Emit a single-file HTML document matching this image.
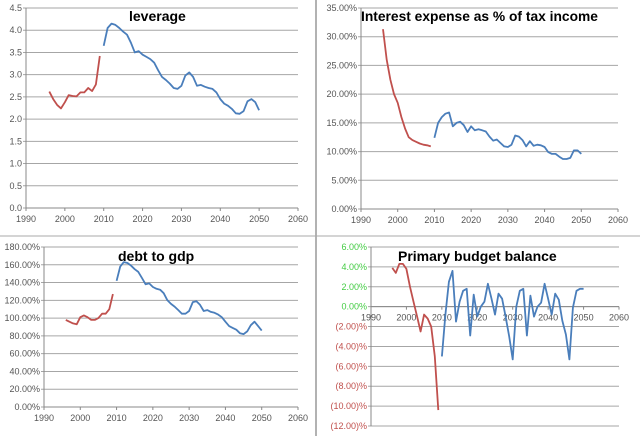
<!DOCTYPE html>
<html><head><meta charset="utf-8">
<style>
body{margin:0;background:#fff;width:640px;height:436px;overflow:hidden;font-family:"Liberation Sans",sans-serif}
svg text{font-family:"Liberation Sans",sans-serif}
</style></head>
<body>
<svg id="s" width="640" height="436" viewBox="0 0 640 436" xmlns="http://www.w3.org/2000/svg">
<line x1="316" y1="0" x2="316" y2="436" stroke="#999" stroke-width="1.5"/>
<line x1="0" y1="236" x2="640" y2="236" stroke="#aaa" stroke-width="1"/>
</svg>
<script>
const years=[];for(let y=1996;y<=2050;y++)years.push(y);
const levRed=[2.62,2.45,2.32,2.24,2.38,2.54,2.52,2.51,2.6,2.6,2.7,2.63,2.78,3.42];
const levBlue=[3.65,4.05,4.15,4.12,4.05,3.97,3.9,3.72,3.5,3.53,3.45,3.4,3.35,3.27,3.1,2.95,2.88,2.8,2.7,2.68,2.75,2.98,3.05,2.95,2.75,2.77,2.73,2.7,2.68,2.6,2.45,2.35,2.3,2.23,2.13,2.12,2.18,2.4,2.45,2.38,2.2];
const intRed=[31.3,26,22.5,20,18.5,16,14,12.5,12,11.7,11.4,11.2,11.1,10.9];
const intBlue=[12.4,15,16,16.6,16.8,14.4,15,15.2,14.6,13.4,14.4,13.7,13.9,13.7,13.5,12.6,11.9,12.1,11.5,10.9,10.8,11.2,12.8,12.6,12,10.9,11.8,11,11.2,11.1,10.8,9.9,9.6,9.6,9.1,8.7,8.7,8.9,10.2,10.2,9.6];
const debtRed=[98,96,94,93,101,103,101,98,98,100,105,105,110,127];
const debtBlue=[142,158,163,162,159,155,152,145,138,139,135,133,132,128,120,116,113,109,105,105,108,118,119,115,108,109,107,106,104,101,96,91,89,87,83,82,85,92,96,91,86];
const pbRed=[3.9,3.4,4.3,4.3,3.8,2.0,0.5,-1.0,-2.5,-0.8,-1.2,-2,-5,-10.4];
const pbBlue=[-5,-0.8,2.5,3.6,-1.5,0.5,1.6,1.8,-2.9,1.2,-1.0,0,0.5,2.3,0.8,-0.8,1.3,0.8,-1.0,-3,-5.3,0,1.6,1.8,-2.9,1.1,-1.0,0,0.4,2.3,0.8,-0.8,1.3,0.7,-1.4,-2.8,-5.3,-0.1,1.6,1.8,1.8];
const xTicks=[1990,2000,2010,2020,2030,2040,2050,2060];
const levTicks=[0,0.5,1,1.5,2,2.5,3,3.5,4,4.5];
const intTicks=[0,5,10,15,20,25,30,35];
const debtTicks=[0,20,40,60,80,100,120,140,160,180];
const pbTicks=[-12,-10,-8,-6,-4,-2,0,2,4,6];

const NS="http://www.w3.org/2000/svg",svg=document.getElementById('s');
function el(t,a,p){const e=document.createElementNS(NS,t);for(const k in a)e.setAttribute(k,a[k]);(p||svg).appendChild(e);return e;}
function chart(c){
  const g=el('g',{});
  
  
  const X=v=>c.x0+(v-1990)/70*(c.x1-c.x0);
  const Y=v=>c.yb+(v-c.ymin)/(c.ymax-c.ymin)*(c.yt-c.yb);
  c.yt_.forEach(t=>{
    const ln=el('line',{x1:X(1990)-3,x2:X(2060),y1:Y(t),y2:Y(t),stroke:'#a6a6a6','stroke-width':1},g);
    
    
    const tx=el('text',{x:X(1990)-4,y:Y(t)+3,'text-anchor':'end','font-size':9,fill:c.ycol?c.ycol(t):'#555'},g);
    tx.textContent=c.fmt(t);
    
    
  });
  const ay=Y(c.axisV);
  const ax=el('line',{x1:X(1990),x2:X(2060),y1:ay,y2:ay,stroke:'#888','stroke-width':1},g);
  
  
  const ya=el('line',{x1:X(1990),x2:X(1990),y1:Y(c.ymax),y2:Y(c.ymin),stroke:'#888','stroke-width':1},g);
  
  
  xTicks.forEach(t=>{
    el('line',{x1:X(t),x2:X(t),y1:ay,y2:ay+3,stroke:'#888'},g);
    const tx=el('text',{x:X(t),y:ay+14,'text-anchor':'middle','font-size':9,fill:'#555'},g);
    tx.textContent=t;
    
    
  });
  [[c.red,1996,'#c0504d','red-series'],[c.blue,2010,'#4a7ebb','blue-series']].forEach(([d,s,col,n])=>{
    const pts=d.map((v,i)=>X(s+i).toFixed(1)+','+Y(v).toFixed(1)).join(' ');
    const p=el('polyline',{points:pts,fill:'none',stroke:col,'stroke-width':1.8,'stroke-linejoin':'round'},g);
    
    
  });
  const tt=el('text',{x:c.tx,y:c.ty,'font-size':c.ts,'font-weight':'bold',fill:'#000'},g);
  tt.textContent=c.title;
  
  
}
chart({name:'leverage-chart',x0:26,x1:298,yt:8,yb:208,ymin:0,ymax:4.5,yt_:levTicks,fmt:v=>v.toFixed(1),axisV:0,red:levRed,blue:levBlue,title:'leverage',tx:129,ty:21,ts:14});
chart({name:'interest-chart',x0:361,x1:618,yt:8,yb:209,ymin:0,ymax:35,yt_:intTicks,fmt:v=>v.toFixed(2)+'%',axisV:0,red:intRed,blue:intBlue,title:'Interest expense as % of tax income',tx:361,ty:21,ts:13.8});
chart({name:'debt-chart',x0:44,x1:298,yt:247,yb:407,ymin:0,ymax:180,yt_:debtTicks,fmt:v=>v.toFixed(2)+'%',axisV:0,red:debtRed,blue:debtBlue,title:'debt to gdp',tx:118,ty:261,ts:14});
chart({name:'primary-balance-chart',x0:371,x1:619,yt:247,yb:426,ymin:-12,ymax:6,yt_:pbTicks,fmt:v=>v<0?'('+Math.abs(v).toFixed(2)+')%':v.toFixed(2)+'%',ycol:v=>v<0?'#c0504d':'#44cc44',axisV:0,red:pbRed,blue:pbBlue,title:'Primary budget balance',tx:398,ty:261,ts:14});
</script>
</body></html>
